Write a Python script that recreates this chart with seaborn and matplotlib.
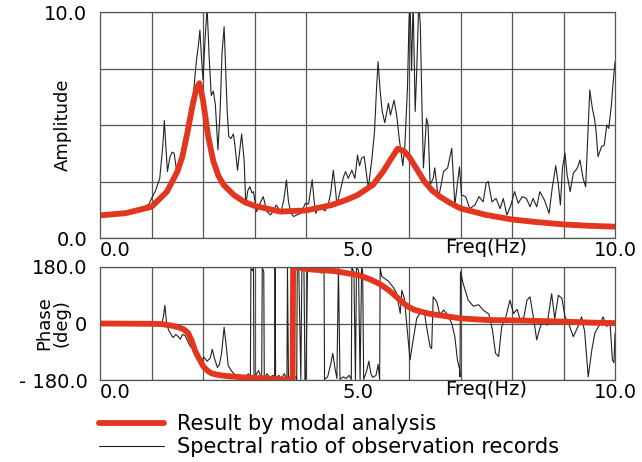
import numpy as np
import seaborn as sns
import matplotlib.pyplot as plt

# values
# spectral ratio of observation records: amplitude
obs_freq = [0.0, 0.2, 0.4, 0.6, 0.8, 0.95, 1.0, 1.08, 1.16, 1.22, 1.25, 1.28, 1.31, 1.36, 1.4, 1.44,
            1.49, 1.55, 1.62, 1.68, 1.73, 1.79, 1.84, 1.88, 1.91, 1.94, 1.97, 2.0, 2.04, 2.08, 2.12,
            2.16, 2.2, 2.24, 2.29, 2.33, 2.37, 2.41, 2.44, 2.47, 2.5, 2.54, 2.59, 2.62, 2.67, 2.71,
            2.75, 2.8, 2.83, 2.87, 2.91, 2.95, 2.98, 3.04, 3.1, 3.17, 3.24, 3.31, 3.37, 3.42, 3.47,
            3.51, 3.57, 3.62, 3.66, 3.71, 3.76, 3.82, 3.9, 3.99, 4.05, 4.12, 4.16, 4.19, 4.24, 4.3,
            4.37, 4.43, 4.48, 4.53, 4.57, 4.6, 4.66, 4.73, 4.77, 4.82, 4.89, 4.95, 5.0, 5.04, 5.08,
            5.13, 5.17, 5.21, 5.28, 5.33, 5.37, 5.4, 5.44, 5.48, 5.53, 5.6, 5.64, 5.71, 5.76, 5.81,
            5.88, 5.92, 5.97, 6.0, 6.02, 6.05, 6.08, 6.12, 6.15, 6.19, 6.22, 6.25, 6.28, 6.34, 6.37,
            6.41, 6.47, 6.5, 6.57, 6.62, 6.67, 6.75, 6.83, 6.89, 6.98, 7.02, 7.1, 7.18, 7.28, 7.36,
            7.44, 7.5, 7.54, 7.61, 7.69, 7.77, 7.83, 7.9, 7.98, 8.05, 8.12, 8.2, 8.28, 8.35, 8.41,
            8.48, 8.54, 8.63, 8.72, 8.78, 8.85, 8.9, 8.94, 8.98, 9.03, 9.07, 9.13, 9.19, 9.27, 9.32,
            9.38, 9.43, 9.47, 9.51, 9.56, 9.6, 9.63, 9.67, 9.74, 9.79, 9.84, 9.88, 9.93, 9.96, 10.0]
obs_amp = [1.0, 1.02, 1.08, 1.15, 1.3, 1.5, 1.75, 2.1, 2.64, 4.1, 5.2, 4.0, 2.94, 3.6, 3.8, 3.75,
           2.94, 3.2, 3.9, 4.7, 5.2, 5.6, 7.07, 8.0, 8.5, 9.2, 8.0, 7.0, 8.8, 10.2, 8.0,
           6.3, 6.5, 5.9, 3.9, 5.5, 8.2, 9.35, 7.5, 5.6, 4.5, 4.4, 4.6, 4.1, 3.0, 3.8,
           4.6, 3.4, 1.46, 2.1, 2.27, 2.0, 2.05, 1.17, 1.5, 1.83, 1.17, 1.02, 1.2, 1.46, 1.3,
           1.1, 1.7, 2.57, 1.6, 1.1, 0.95, 1.02, 1.09, 1.54, 1.5, 2.58, 1.6, 1.09, 1.4, 1.3,
           1.2, 1.46, 2.0, 3.0, 2.2, 1.46, 2.05, 2.72, 2.94, 2.64, 3.0, 2.64, 3.67, 3.2, 3.53,
           3.6, 2.9, 2.2, 3.5, 4.7, 6.63, 7.8, 6.5, 5.6, 5.1, 5.96, 5.44, 6.1, 5.44, 4.4,
           3.2, 4.1, 6.63, 9.6, 10.5, 7.4, 10.5, 5.6, 7.4, 10.5, 9.4, 6.0, 3.1, 5.3, 5.0,
           2.35, 2.64, 3.1, 1.75, 2.3, 2.94, 3.1, 3.97, 1.46, 3.15, 1.9, 1.83, 1.3, 1.46, 1.83,
           1.6, 2.45, 2.5, 1.6, 1.75, 1.3, 1.75, 1.02, 1.46, 2.05, 1.54, 1.83, 1.75, 1.38, 1.75,
           1.38, 2.05, 1.68, 1.09, 2.2, 3.2, 2.35, 1.46, 3.1, 3.75, 2.8, 2.05, 2.86, 3.1, 3.45,
           2.64, 2.27, 4.4, 6.55, 5.74, 5.3, 4.8, 3.6, 4.05, 4.1, 5.0, 4.85, 5.9, 6.77, 7.8]

# result by modal analysis: amplitude
modal_freq = [0.0, 0.5, 1.0, 1.3, 1.5, 1.6, 1.7, 1.8, 1.87, 1.93, 2.0, 2.1, 2.2, 2.3, 2.4, 2.6, 2.8,
              3.0, 3.5, 4.0, 4.5, 4.8, 5.0, 5.3, 5.5, 5.65, 5.78, 5.9, 6.0, 6.15, 6.3, 6.45, 6.6,
              6.8, 7.0, 7.5, 8.0, 8.5, 9.0, 9.5, 10.0]
modal_amp = [1.0, 1.1, 1.38, 2.05, 2.93, 3.6, 4.7, 5.9, 6.6, 6.85, 6.1, 4.5, 3.4, 2.75, 2.35, 1.9, 1.6,
             1.42, 1.17, 1.22, 1.46, 1.7, 1.9, 2.35, 2.95, 3.5, 3.95, 3.85, 3.6, 3.05, 2.5, 2.1, 1.83,
             1.55, 1.31, 1.02, 0.82, 0.7, 0.6, 0.54, 0.5]

# spectral ratio of observation records: phase
obs_pfreq = [0.0, 0.3, 0.6, 0.9, 1.1, 1.2, 1.23, 1.26, 1.29, 1.33, 1.38, 1.42, 1.47, 1.52, 1.56, 1.6,
             1.65, 1.7, 1.76, 1.8, 1.85, 1.9, 1.96, 2.02, 2.08, 2.14, 2.18, 2.22, 2.28, 2.32, 2.36,
             2.41, 2.45, 2.49, 2.55, 2.6, 2.68, 2.75, 2.82, 2.88, 2.92, 2.93, 2.96, 2.98, 2.99, 3.04,
             3.08, 3.12, 3.14, 3.15, 3.18, 3.19, 3.24, 3.3, 3.36, 3.39, 3.4, 3.41, 3.47, 3.52, 3.58,
             3.63, 3.64, 3.66, 3.7, 3.76, 3.8, 3.82, 3.83, 3.86, 3.9, 3.92, 3.96, 3.98, 4.0, 4.03,
             4.1, 4.18, 4.25, 4.3, 4.35, 4.36, 4.42, 4.48, 4.52, 4.56, 4.6, 4.63, 4.66, 4.72, 4.78,
             4.84, 4.88, 4.89, 4.93, 4.96, 4.98, 5.02, 5.05, 5.08, 5.1, 5.12, 5.18, 5.22, 5.26, 5.3,
             5.36, 5.4, 5.43, 5.44, 5.47, 5.6, 5.7, 5.76, 5.83, 5.86, 5.91, 5.96, 6.02, 6.08, 6.15,
             6.25, 6.3, 6.34, 6.41, 6.44, 6.47, 6.54, 6.6, 6.67, 6.73, 6.83, 6.89, 6.94, 6.98, 6.99,
             7.0, 7.05, 7.15, 7.25, 7.35, 7.44, 7.55, 7.62, 7.68, 7.74, 7.8, 7.88, 7.96, 8.03, 8.1,
             8.16, 8.23, 8.29, 8.35, 8.42, 8.48, 8.54, 8.6, 8.68, 8.77, 8.83, 8.9, 8.97, 9.03, 9.1,
             9.19, 9.28, 9.35, 9.41, 9.48, 9.55, 9.61, 9.68, 9.77, 9.84, 9.9, 9.95, 9.98, 10.0]
obs_phase = [2, 0, 1, -1, -3, 0, 20, 58, 5, -20, -35, -45, -35, -42, -50, -35,
             -38, -55, -75, -68, -80, -100, -118, -108, -120, -110, -82, -110, -140, -130, -95,
             -12, -70, -135, -150, -160, -172, -165, -172, -160, -175, 175, 168, 178, -175, -160,
             -150, -170, -178, 178, 165, -178, -160, -172, -165, -178, 178, -178, -165, -175, -160,
             -178, 178, -178, -168, -175, -170, -178, 178, 170, -178, 178, 172, -178, -170, 178,
             170, 165, 172, 160, 175, -178, -170, -130, -95, -140, -175, 178, -178, -170, -175,
             -165, -178, 178, 165, -178, 178, 170, -178, 178, 165, -178, -150, -120, -160, -172,
             -165, -130, -178, 178, 150, 135, 114, 96, 32, 106, 80, -10, -116, -53, 16,
             43, 35, -10, -74, -80, 85, 69, 27, 43, 32, 0, -42, -116, -143, -170,
             165, 128, 74, 55, 60, 43, 30, -20, -95, -105, -10, 21, 74, 32, 45,
             11, 20, 74, 85, 15, -52, -15, 10, -5, 95, 15, 90, 80, 21, 0,
             -42, -10, 21, -25, -170, -84, -30, -10, 21, -10, 10, -116, -125, -31]

# result by modal analysis: phase
modal_pfreq = [0.0, 1.0, 1.2, 1.4, 1.52, 1.62, 1.71, 1.78, 1.84, 1.9, 1.94, 2.0, 2.04, 2.1, 2.17, 2.3,
               2.49, 2.82, 3.2, 3.74, 3.75, 4.11, 4.56, 5.02, 5.27, 5.45, 5.6, 5.7, 5.79, 5.9, 5.99,
               6.1, 6.25, 6.4, 6.57, 6.8, 7.02, 7.54, 8.0, 8.5, 9.0, 9.5, 10.0]
modal_phase = [0, -1, -2, -7, -12, -18, -30, -55, -84, -105, -116, -135, -143, -152, -159, -164,
               -168, -172, -175, -180, 180, 172, 167, 154, 139, 124, 107, 93, 80, 64, 53,
               44, 37, 31, 27, 21, 16, 11, 10, 8, 6, 3, 1]

RED = "#e2361f"
OBS = "#222222"
GRID = "#555555"

sns.set_style("white")
plt.rcParams['font.family'] = ['DejaVu Sans']
plt.rcParams['text.color'] = 'black'
plt.rcParams['axes.labelcolor'] = 'black'
plt.rcParams['xtick.color'] = 'black'
plt.rcParams['ytick.color'] = 'black'

fig = plt.figure(figsize=(6.42, 4.62), dpi=100)
ax1 = fig.add_axes([100 / 642, 1 - 238 / 462, 515 / 642, 226 / 462])
ax2 = fig.add_axes([100 / 642, 1 - 380 / 462, 515 / 642, 113 / 462])

sns.lineplot(x=obs_freq, y=obs_amp, ax=ax1, color=OBS, lw=0.8, estimator=None, sort=False,
             label="Spectral ratio of observation records", legend=False)
sns.lineplot(x=modal_freq, y=modal_amp, ax=ax1, color=RED, lw=4.2, estimator=None, sort=False,
             label="Result by modal analysis", legend=False)
sns.lineplot(x=obs_pfreq, y=obs_phase, ax=ax2, color=OBS, lw=0.8, estimator=None, sort=False,
             legend=False)
sns.lineplot(x=modal_pfreq, y=modal_phase, ax=ax2, color=RED, lw=4.2, estimator=None, sort=False,
             legend=False)

for ax in (ax1, ax2):
    ax.set_xlim(0, 10)
    ax.set_xticks([0, 5, 10])
    ax.set_xticklabels(["0.0", "5.0", "10.0"])
    ax.set_xticks(np.arange(0, 11, 1), minor=True)
    ax.grid(True, axis="x", which="minor", color=GRID, lw=0.9)
    ax.grid(True, axis="y", which="major", color=GRID, lw=0.9)
    ax.tick_params(axis="x", which="both", length=0, pad=2, labelsize=14, labelcolor="black")
    ax.tick_params(axis="y", which="major", length=0, pad=9, labelsize=14, labelcolor="black")
    ax.get_xticklabels()[0].set_ha("left")
    ax.set_xlabel("Freq(Hz)", fontsize=14, color="black")
    ax.xaxis.set_label_coords(0.75, -0.0, transform=ax.transAxes)
    ax.xaxis.label.set_va("top")
    ax.set_axisbelow(True)
    for s in ax.spines.values():
        s.set_color(GRID)
        s.set_linewidth(0.9)

ax1.set_ylim(0, 10)
ax1.set_yticks([0, 2.5, 5, 7.5, 10])
ax1.set_yticklabels(["0.0", "", "", "", "10.0"])
ax1.set_ylabel("Amplitude", fontsize=13, va="center", color="black")
ax1.yaxis.set_label_coords(-0.072, 0.5)

ax2.set_ylim(-180, 180)
ax2.set_yticks([-180, 0, 180])
ax2.set_yticklabels(["- 180.0", "0", "180.0"])
ax2.set_yticks([-90, 90], minor=True)
ax2.tick_params(axis="y", which="minor", direction="in", length=6, color=GRID, width=0.9)
ax2.set_ylabel("Phase\n(deg)", fontsize=13, va="center", linespacing=0.95, color="black")
ax2.yaxis.set_label_coords(-0.092, 0.5)

h, l = ax1.get_legend_handles_labels()
leg = fig.legend(h[::-1], l[::-1], loc="upper left", bbox_to_anchor=(99 / 642, 1 - 414 / 462),
                 frameon=False, fontsize=15, handlelength=3.1, handletextpad=0.65,
                 labelspacing=0.15, borderpad=0, borderaxespad=0)
for t in leg.get_texts():
    t.set_color("black")

fig.savefig("out.png", dpi=100)
